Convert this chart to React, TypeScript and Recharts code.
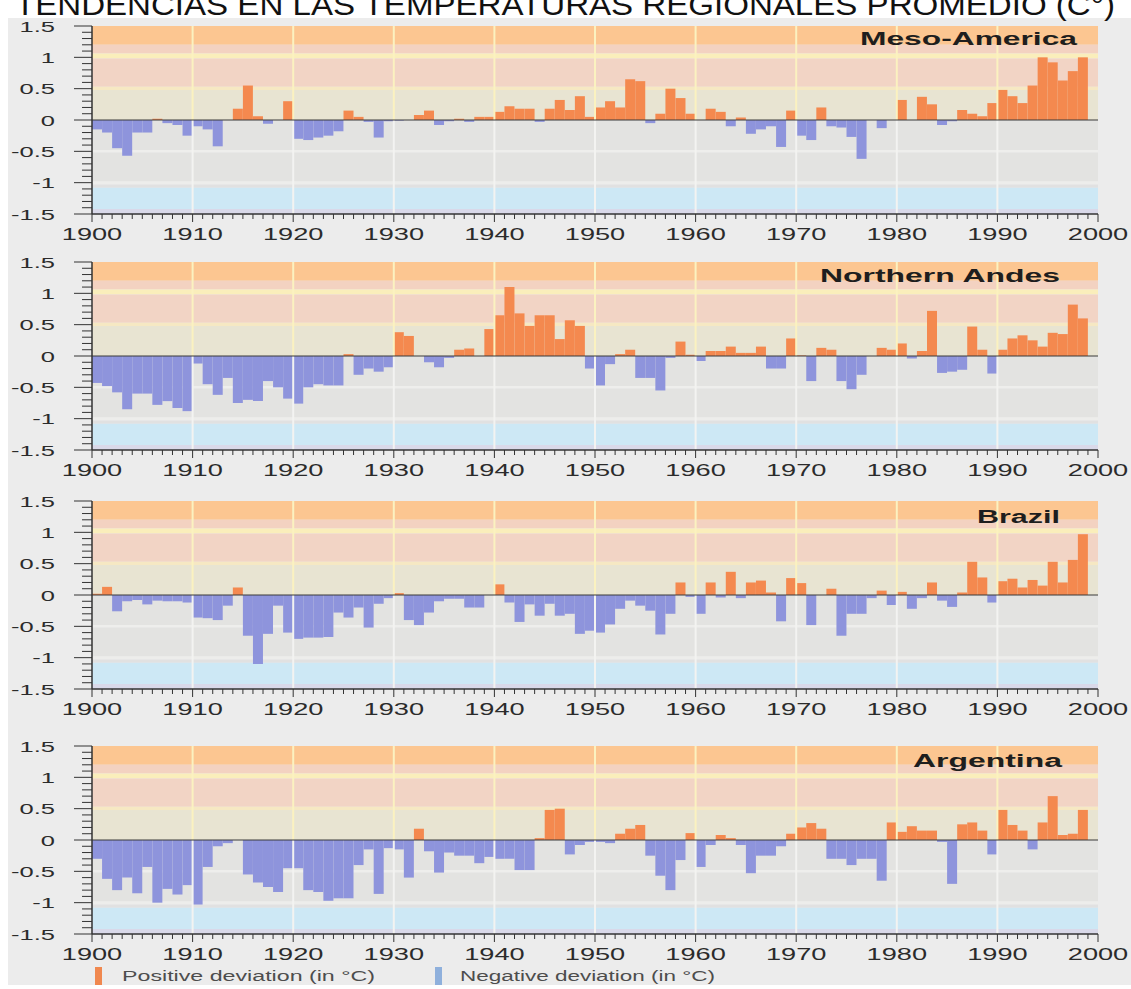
import React from "react";
import {
  BarChart,
  Bar,
  XAxis,
  YAxis,
  ReferenceArea,
  ReferenceLine,
} from "recharts";

// years on the category axis; 1999 stays empty so the last band ends at 2000
const START_YEAR = 1900;
const YEARS = Array.from({ length: 100 }, (_, i) => START_YEAR + i);

const DECADES = [1900, 1910, 1920, 1930, 1940, 1950, 1960, 1970, 1980, 1990, 2000];
const YEAR_TICKS = Array.from({ length: 101 }, (_, i) => START_YEAR + i);
const VALUE_LABELS = [-1.5, -1, -0.5, 0, 0.5, 1, 1.5];
const VALUE_TICKS = Array.from({ length: 31 }, (_, i) => Math.round((-1.5 + i * 0.1) * 10) / 10);

const REGIONS = ["Meso-America", "Northern Andes", "Brazil", "Argentina"];

// deviation per year, 1900..1998 (°C)
const MESO_AMERICA = [
  -0.15, -0.2, -0.45, -0.57, -0.2, -0.2, 0.02, -0.05, -0.08, -0.25,
  -0.1, -0.15, -0.42, 0, 0.18, 0.55, 0.06, -0.06, 0, 0.3,
  -0.3, -0.32, -0.28, -0.25, -0.18, 0.15, 0.05, -0.03, -0.28, -0.02,
  -0.01, 0, 0.08, 0.15, -0.08, -0.02, 0.02, -0.03, 0.05, 0.05,
  0.13, 0.22, 0.18, 0.18, -0.03, 0.18, 0.32, 0.16, 0.38, 0.05,
  0.2, 0.3, 0.2, 0.65, 0.62, -0.05, 0.1, 0.5, 0.35, 0.1,
  0, 0.18, 0.13, -0.1, 0.04, -0.22, -0.15, -0.1, -0.43, 0.15,
  -0.25, -0.32, 0.2, -0.1, -0.12, -0.27, -0.62, 0, -0.13, 0,
  0.32, 0, 0.37, 0.25, -0.08, -0.02, 0.16, 0.1, 0.06, 0.27,
  0.48, 0.38, 0.27, 0.55, 1.0, 0.92, 0.63, 0.78, 1.0,
];

const NORTHERN_ANDES = [
  -0.43, -0.48, -0.58, -0.85, -0.6, -0.6, -0.78, -0.72, -0.83, -0.88,
  -0.12, -0.45, -0.62, -0.35, -0.75, -0.7, -0.72, -0.4, -0.5, -0.68,
  -0.76, -0.5, -0.45, -0.47, -0.47, 0.03, -0.3, -0.2, -0.25, -0.18,
  0.38, 0.32, 0, -0.1, -0.18, -0.03, 0.1, 0.12, 0, 0.43,
  0.65, 1.1, 0.68, 0.48, 0.65, 0.65, 0.27, 0.57, 0.48, -0.2,
  -0.47, -0.13, 0.03, 0.1, -0.35, -0.35, -0.55, -0.03, 0.23, 0.02,
  -0.08, 0.08, 0.08, 0.15, 0.05, 0.05, 0.15, -0.2, -0.2, 0.28,
  0.01, -0.4, 0.13, 0.1, -0.4, -0.53, -0.3, 0, 0.13, 0.1,
  0.2, -0.04, 0.08, 0.72, -0.27, -0.25, -0.22, 0.47, 0.1, -0.28,
  0.1, 0.28, 0.33, 0.25, 0.15, 0.37, 0.35, 0.82, 0.6,
];

const BRAZIL = [
  0.02, 0.13, -0.26, -0.1, -0.08, -0.15, -0.09, -0.1, -0.1, -0.12,
  -0.36, -0.37, -0.4, -0.17, 0.12, -0.65, -1.1, -0.62, -0.17, -0.6,
  -0.7, -0.68, -0.68, -0.67, -0.28, -0.36, -0.2, -0.52, -0.14, -0.05,
  0.03, -0.4, -0.48, -0.28, -0.1, -0.06, -0.06, -0.2, -0.2, 0,
  0.17, -0.12, -0.43, -0.15, -0.33, -0.14, -0.33, -0.3, -0.62, -0.57,
  -0.6, -0.47, -0.22, -0.09, -0.17, -0.25, -0.63, -0.3, 0.2, -0.03,
  -0.3, 0.2, -0.04, 0.37, -0.05, 0.2, 0.23, 0.04, -0.42, 0.27,
  0.19, -0.48, 0, 0.1, -0.65, -0.3, -0.3, -0.05, 0.07, -0.16,
  0.05, -0.22, -0.05, 0.2, -0.09, -0.19, 0.04, 0.53, 0.28, -0.12,
  0.22, 0.26, 0.12, 0.24, 0.15, 0.53, 0.2, 0.56, 0.97,
];

const ARGENTINA = [
  -0.3, -0.62, -0.8, -0.6, -0.85, -0.43, -1.0, -0.78, -0.87, -0.72,
  -1.03, -0.43, -0.1, -0.05, 0, -0.55, -0.68, -0.75, -0.83, -0.45,
  -0.45, -0.8, -0.83, -0.97, -0.93, -0.93, -0.4, -0.15, -0.86, -0.13,
  -0.15, -0.6, 0.18, -0.18, -0.52, -0.2, -0.25, -0.25, -0.37, -0.27,
  -0.3, -0.3, -0.48, -0.48, 0.03, 0.48, 0.5, -0.23, -0.08, -0.03,
  -0.03, -0.05, 0.1, 0.18, 0.24, -0.25, -0.57, -0.8, -0.32, 0.11,
  -0.43, -0.08, 0.08, 0.03, -0.08, -0.53, -0.25, -0.25, -0.1, 0.1,
  0.2, 0.27, 0.18, -0.3, -0.3, -0.4, -0.3, -0.3, -0.65, 0.28,
  0.13, 0.22, 0.15, 0.15, -0.03, -0.7, 0.25, 0.28, 0.15, -0.23,
  0.48, 0.24, 0.15, -0.15, 0.28, 0.7, 0.08, 0.1, 0.48,
];

const SERIES = [MESO_AMERICA, NORTHERN_ANDES, BRAZIL, ARGENTINA];

// layout (page px)
const PLOT_TOPS = [26, 262, 501, 746];
const NAME_POS = [
  { x: 860, y: 45, w: 217 },
  { x: 820, y: 282, w: 240 },
  { x: 977, y: 523, w: 83 },
  { x: 913, y: 767, w: 149 },
];

const POS_COLOR = "#f4894f";
const NEG_COLOR = "#8e94dc";
const STRETCH = 1.7;

// background stripes of the plot area
const BANDS = [
  { from: 1.2, to: 1.5, color: "#fcc691" },
  { from: 1.06, to: 1.2, color: "#f3d2c1" },
  { from: 0.98, to: 1.06, color: "#faeebb" },
  { from: 0.53, to: 0.98, color: "#f2d4c5" },
  { from: 0.48, to: 0.53, color: "#f6e8c3" },
  { from: 0, to: 0.48, color: "#e8e4d2" },
  { from: -0.48, to: 0, color: "#e3e3e1" },
  { from: -0.52, to: -0.48, color: "#eeeeec" },
  { from: -0.98, to: -0.52, color: "#e3e3e1" },
  { from: -1.03, to: -0.98, color: "#ededeb" },
  { from: -1.08, to: -1.03, color: "#e1e1e1" },
  { from: -1.42, to: -1.08, color: "#cde8f5" },
  { from: -1.5, to: -1.42, color: "#d9d9e9" },
];

function YearTick(props: any) {
  const { x, y, payload } = props;
  const year = payload.value;
  const major = year % 10 === 0;
  return (
    <g>
      <line x1={x} y1={y} x2={x} y2={y + (major ? 8 : 5)} stroke="#333" strokeWidth={1} />
      {major && (
        <text
          transform={`translate(${x},${y + 26}) scale(${STRETCH},1)`}
          textAnchor="middle"
          fontSize={16}
          fill="#2b2b2b"
        >
          {year}
        </text>
      )}
    </g>
  );
}

function ValueTick(props: any) {
  const { x, y, payload } = props;
  const v = payload.value;
  const major = VALUE_LABELS.some((l) => Math.abs(l - v) < 1e-6);
  return (
    <g>
      <line x1={x - (major ? 18 : 10)} y1={y} x2={x} y2={y} stroke="#333" strokeWidth={1} />
      {major && (
        <text
          transform={`translate(${x - 37},${y + 5.5}) scale(${STRETCH},1)`}
          textAnchor="end"
          fontSize={15}
          fill="#2b2b2b"
        >
          {v === 0 ? "0" : String(v)}
        </text>
      )}
    </g>
  );
}

function Panel({ values, plotTop }: { values: number[]; plotTop: number }) {
  const rows = YEARS.map((year, i) => {
    const v = values[i];
    return { year, pos: v > 0 ? v : 0, neg: v < 0 ? v : 0 };
  });

  return (
    <div style={{ position: "absolute", left: 0, top: plotTop - 10 }}>
      <BarChart
        width={1131}
        height={238}
        data={rows}
        margin={{ top: 10, right: 33, bottom: 0, left: 0 }}
        barCategoryGap={0}
        barGap={0}
      >
        <XAxis xAxisId="cat" dataKey="year" type="category" hide height={0} />
        <XAxis
          xAxisId="num"
          dataKey="year"
          type="number"
          domain={[1900, 2000]}
          allowDataOverflow
          ticks={YEAR_TICKS}
          interval={0}
          tickSize={0}
          tickMargin={0}
          tickLine={false}
          height={40}
          axisLine={{ stroke: "#333", strokeWidth: 1.5 }}
          tick={(p: any) => <YearTick {...p} />}
        />
        <YAxis
          type="number"
          domain={[-1.5, 1.5]}
          allowDataOverflow
          ticks={VALUE_TICKS}
          interval={0}
          width={92}
          tickSize={0}
          tickMargin={0}
          tickLine={false}
          axisLine={{ stroke: "#333", strokeWidth: 1.5 }}
          tick={(p: any) => <ValueTick {...p} />}
        />
        {BANDS.map((b) => (
          <ReferenceArea
            key={b.from}
            xAxisId="num"
            x1={1900}
            x2={2000}
            y1={b.from}
            y2={b.to}
            fill={b.color}
            fillOpacity={1}
            stroke="none"
          />
        ))}
        {DECADES.slice(1, -1).map((d) => (
          <ReferenceLine
            key={`u${d}`}
            xAxisId="num"
            segment={[{ x: d, y: 0 }, { x: d, y: 1.5 }]}
            stroke="#fbf2c0"
            strokeWidth={2}
          />
        ))}
        {DECADES.slice(1, -1).map((d) => (
          <ReferenceLine
            key={`l${d}`}
            xAxisId="num"
            segment={[{ x: d, y: -1.5 }, { x: d, y: 0 }]}
            stroke="#f3f3f1"
            strokeWidth={2}
          />
        ))}
        <Bar
          xAxisId="cat"
          dataKey="pos"
          stackId="dev"
          fill={POS_COLOR}
          name="Positive deviation (in °C)"
          isAnimationActive={false}
        />
        <Bar
          xAxisId="cat"
          dataKey="neg"
          stackId="dev"
          fill={NEG_COLOR}
          name="Negative deviation (in °C)"
          isAnimationActive={false}
        />
        <ReferenceLine xAxisId="num" y={0} stroke="#3a3a3a" strokeWidth={1.2} />
      </BarChart>
    </div>
  );
}

export default function App() {
  return (
    <div
      style={{
        position: "fixed",
        left: 0,
        top: 0,
        width: 1131,
        height: 989,
        background: "#ffffff",
        overflow: "hidden",
        fontFamily: "Arial, 'Liberation Sans', sans-serif",
      }}
    >
      {/* grey picture area, white page margin on the left and above */}
      <div
        style={{
          position: "absolute",
          left: 8,
          top: 18,
          width: 1123,
          height: 967,
          background: "#ececec",
        }}
      />

      {SERIES.map((values, i) => (
        <Panel key={REGIONS[i]} values={values} plotTop={PLOT_TOPS[i]} />
      ))}

      <svg
        width={1131}
        height={989}
        style={{ position: "absolute", left: 0, top: 0, pointerEvents: "none" }}
        fontFamily="Arial, 'Liberation Sans', sans-serif"
      >
        <text x={15} y={15} fontSize={30} fill="#111" textLength={1100} lengthAdjust="spacingAndGlyphs">
          TENDENCIAS EN LAS TEMPERATURAS REGIONALES PROMEDIO (C°)
        </text>

        {REGIONS.map((name, i) => (
          <text
            key={name}
            x={NAME_POS[i].x}
            y={NAME_POS[i].y}
            fontSize={18}
            fontWeight="bold"
            fill="#1e1e1e"
            textLength={NAME_POS[i].w}
            lengthAdjust="spacingAndGlyphs"
          >
            {name}
          </text>
        ))}

        <rect x={95} y={967} width={7} height={18} fill="#f0884f" />
        <text x={122} y={981} fontSize={14} fill="#4d4d4d" textLength={253} lengthAdjust="spacingAndGlyphs">
          Positive deviation (in °C)
        </text>
        <rect x={435} y={967} width={7} height={18} fill="#8fb0dc" />
        <text x={460} y={981} fontSize={14} fill="#4d4d4d" textLength={255} lengthAdjust="spacingAndGlyphs">
          Negative deviation (in °C)
        </text>
      </svg>
    </div>
  );
}
